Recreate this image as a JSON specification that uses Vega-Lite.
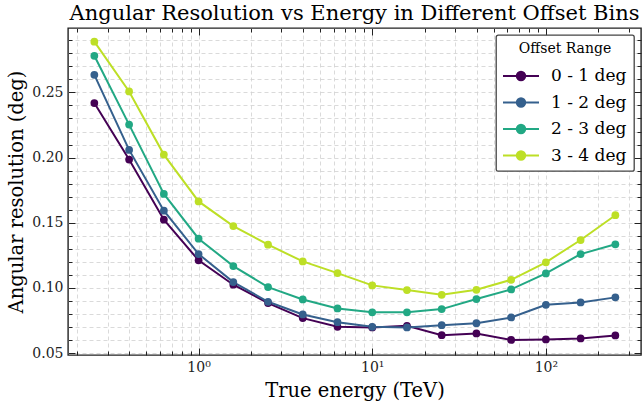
{
  "$schema": "https://vega.github.io/schema/vega-lite/v6.json",
  "width": 573,
  "height": 327,
  "autosize": {"type": "none"},
  "padding": {"left": 68, "top": 28, "right": 2, "bottom": 48},
  "background": "white",
  "config": {
    "font": "DejaVu Serif",
    "view": {"stroke": "#222", "strokeWidth": 1.4},
    "axis": {
      "labelFont": "DejaVu Serif",
      "titleFont": "DejaVu Serif",
      "labelColor": "#222",
      "titleColor": "#000",
      "titleFontWeight": "normal",
      "labelFontSize": 14,
      "titleFontSize": 19.5,
      "domain": false,
      "tickColor": "#222",
      "tickWidth": 1,
      "gridColor": "#d0d0d0",
      "gridDash": [4, 3],
      "gridWidth": 0.8,
      "labelOverlap": false,
      "labelFlush": false
    }
  },
  "title": {
    "text": "Angular Resolution vs Energy in Different Offset Bins",
    "font": "DejaVu Serif",
    "fontSize": 21,
    "fontWeight": "normal",
    "color": "#000",
    "anchor": "middle",
    "offset": 4
  },
  "data": {
    "values": [
      {"energy": 0.251, "offset": "0 - 1 deg", "res": 0.2418},
      {"energy": 0.398, "offset": "0 - 1 deg", "res": 0.1985},
      {"energy": 0.631, "offset": "0 - 1 deg", "res": 0.1524},
      {"energy": 1.0, "offset": "0 - 1 deg", "res": 0.1212},
      {"energy": 1.585, "offset": "0 - 1 deg", "res": 0.1025},
      {"energy": 2.512, "offset": "0 - 1 deg", "res": 0.0884},
      {"energy": 3.981, "offset": "0 - 1 deg", "res": 0.0769},
      {"energy": 6.31, "offset": "0 - 1 deg", "res": 0.0702},
      {"energy": 10.0, "offset": "0 - 1 deg", "res": 0.0697},
      {"energy": 15.85, "offset": "0 - 1 deg", "res": 0.0710},
      {"energy": 25.12, "offset": "0 - 1 deg", "res": 0.0638},
      {"energy": 39.81, "offset": "0 - 1 deg", "res": 0.0651},
      {"energy": 63.1, "offset": "0 - 1 deg", "res": 0.0602},
      {"energy": 100.0, "offset": "0 - 1 deg", "res": 0.0605},
      {"energy": 158.5, "offset": "0 - 1 deg", "res": 0.0613},
      {"energy": 251.2, "offset": "0 - 1 deg", "res": 0.0636},
      {"energy": 0.251, "offset": "1 - 2 deg", "res": 0.2635},
      {"energy": 0.398, "offset": "1 - 2 deg", "res": 0.2059},
      {"energy": 0.631, "offset": "1 - 2 deg", "res": 0.1593},
      {"energy": 1.0, "offset": "1 - 2 deg", "res": 0.1260},
      {"energy": 1.585, "offset": "1 - 2 deg", "res": 0.1045},
      {"energy": 2.512, "offset": "1 - 2 deg", "res": 0.0894},
      {"energy": 3.981, "offset": "1 - 2 deg", "res": 0.0797},
      {"energy": 6.31, "offset": "1 - 2 deg", "res": 0.0738},
      {"energy": 10.0, "offset": "1 - 2 deg", "res": 0.0702},
      {"energy": 15.85, "offset": "1 - 2 deg", "res": 0.0697},
      {"energy": 25.12, "offset": "1 - 2 deg", "res": 0.0715},
      {"energy": 39.81, "offset": "1 - 2 deg", "res": 0.0730},
      {"energy": 63.1, "offset": "1 - 2 deg", "res": 0.0774},
      {"energy": 100.0, "offset": "1 - 2 deg", "res": 0.0871},
      {"energy": 158.5, "offset": "1 - 2 deg", "res": 0.0889},
      {"energy": 251.2, "offset": "1 - 2 deg", "res": 0.0928},
      {"energy": 0.251, "offset": "2 - 3 deg", "res": 0.2781},
      {"energy": 0.398, "offset": "2 - 3 deg", "res": 0.2253},
      {"energy": 0.631, "offset": "2 - 3 deg", "res": 0.1721},
      {"energy": 1.0, "offset": "2 - 3 deg", "res": 0.1378},
      {"energy": 1.585, "offset": "2 - 3 deg", "res": 0.1168},
      {"energy": 2.512, "offset": "2 - 3 deg", "res": 0.1007},
      {"energy": 3.981, "offset": "2 - 3 deg", "res": 0.0912},
      {"energy": 6.31, "offset": "2 - 3 deg", "res": 0.0843},
      {"energy": 10.0, "offset": "2 - 3 deg", "res": 0.0813},
      {"energy": 15.85, "offset": "2 - 3 deg", "res": 0.0813},
      {"energy": 25.12, "offset": "2 - 3 deg", "res": 0.0838},
      {"energy": 39.81, "offset": "2 - 3 deg", "res": 0.0915},
      {"energy": 63.1, "offset": "2 - 3 deg", "res": 0.0989},
      {"energy": 100.0, "offset": "2 - 3 deg", "res": 0.1112},
      {"energy": 158.5, "offset": "2 - 3 deg", "res": 0.1260},
      {"energy": 251.2, "offset": "2 - 3 deg", "res": 0.1335},
      {"energy": 0.251, "offset": "3 - 4 deg", "res": 0.2889},
      {"energy": 0.398, "offset": "3 - 4 deg", "res": 0.2507},
      {"energy": 0.631, "offset": "3 - 4 deg", "res": 0.2023},
      {"energy": 1.0, "offset": "3 - 4 deg", "res": 0.1664},
      {"energy": 1.585, "offset": "3 - 4 deg", "res": 0.1475},
      {"energy": 2.512, "offset": "3 - 4 deg", "res": 0.1332},
      {"energy": 3.981, "offset": "3 - 4 deg", "res": 0.1204},
      {"energy": 6.31, "offset": "3 - 4 deg", "res": 0.1114},
      {"energy": 10.0, "offset": "3 - 4 deg", "res": 0.1020},
      {"energy": 15.85, "offset": "3 - 4 deg", "res": 0.0984},
      {"energy": 25.12, "offset": "3 - 4 deg", "res": 0.0948},
      {"energy": 39.81, "offset": "3 - 4 deg", "res": 0.0986},
      {"energy": 63.1, "offset": "3 - 4 deg", "res": 0.1063},
      {"energy": 100.0, "offset": "3 - 4 deg", "res": 0.1197},
      {"energy": 158.5, "offset": "3 - 4 deg", "res": 0.1368},
      {"energy": 251.2, "offset": "3 - 4 deg", "res": 0.1558}
    ]
  },
  "layer": [
    {
      "mark": {"type": "line", "strokeWidth": 2, "point": {"filled": true, "size": 60, "opacity": 1}},
      "encoding": {
        "x": {
          "field": "energy",
          "type": "quantitative",
          "scale": {"type": "log", "domain": [0.177, 353], "nice": false},
          "axis": {
            "orient": "bottom",
            "title": "True energy (TeV)",
            "values": [0.2, 0.3, 0.4, 0.5, 0.6, 0.7, 0.8, 0.9, 1, 2, 3, 4, 5, 6, 7, 8, 9, 10, 20, 30, 40, 50, 60, 70, 80, 90, 100, 200, 300],
            "labelExpr": "datum.value == 1 ? '10⁰' : datum.value == 10 ? '10¹' : datum.value == 100 ? '10²' : ''",
            "grid": true,
            "tickSize": {"condition": {"test": "datum.value == 1 || datum.value == 10 || datum.value == 100", "value": -7}, "value": -4},
            "labelPadding": 12,
            "titlePadding": 4
          }
        },
        "y": {
          "field": "res",
          "type": "quantitative",
          "scale": {"domain": [0.0486, 0.2994], "nice": false, "zero": false},
          "axis": {
            "orient": "left",
            "title": "Angular resolution (deg)",
            "values": [0.05, 0.06, 0.07, 0.08, 0.09, 0.1, 0.11, 0.12, 0.13, 0.14, 0.15, 0.16, 0.17, 0.18, 0.19, 0.2, 0.21, 0.22, 0.23, 0.24, 0.25, 0.26, 0.27, 0.28, 0.29],
            "labelExpr": "abs(datum.value * 20 - round(datum.value * 20)) < 0.001 ? format(datum.value, '.2f') : ''",
            "grid": true,
            "tickSize": {"condition": {"test": "abs(datum.value * 20 - round(datum.value * 20)) < 0.001", "value": -7}, "value": -4},
            "labelPadding": 12,
            "titlePadding": 5
          }
        },
        "color": {
          "field": "offset",
          "type": "nominal",
          "scale": {"domain": ["0 - 1 deg", "1 - 2 deg", "2 - 3 deg", "3 - 4 deg"], "range": ["#440154", "#35608d", "#22a884", "#bddf26"]},
          "legend": {
            "title": "Offset Range",
            "orient": "top-right",
            "offset": 7,
            "titleFont": "DejaVu Serif",
            "titleFontSize": 14,
            "titleFontWeight": "normal",
            "titleColor": "#000",
            "titleAnchor": "middle",
            "titlePadding": 9,
            "labelFont": "DejaVu Serif",
            "labelFontSize": 17,
            "labelColor": "#000",
            "labelOffset": 19,
            "symbolType": "M -1.8 0 L 1.8 0 M 0.42 0 A 0.42 0.42 0 1 1 -0.42 0 A 0.42 0.42 0 1 1 0.42 0 Z",
            "symbolSize": 400,
            "symbolOffset": 7,
            "symbolStrokeWidth": 2,
            "symbolOpacity": 1,
            "strokeColor": "#444",
            "fillColor": "white",
            "padding": 7,
            "cornerRadius": 2,
            "rowPadding": 6.5,
            "encode": {
              "legend": {"update": {"strokeWidth": {"value": 1.3}}},
              "symbols": {"update": {"fill": {"scale": "color", "field": "value"}, "stroke": {"scale": "color", "field": "value"}, "opacity": {"value": 1}}}
            }
          }
        }
      }
    },
    {
      "mark": {"type": "line", "opacity": 0},
      "encoding": {
        "x": {
          "field": "energy",
          "type": "quantitative",
          "axis": {
            "orient": "top",
            "title": null,
            "values": [0.2, 0.3, 0.4, 0.5, 0.6, 0.7, 0.8, 0.9, 1, 2, 3, 4, 5, 6, 7, 8, 9, 10, 20, 30, 40, 50, 60, 70, 80, 90, 100, 200, 300],
            "labels": false,
            "grid": false,
            "tickSize": {"condition": {"test": "datum.value == 1 || datum.value == 10 || datum.value == 100", "value": -7}, "value": -4}
          }
        },
        "y": {
          "field": "res",
          "type": "quantitative",
          "axis": {
            "orient": "right",
            "title": null,
            "values": [0.05, 0.06, 0.07, 0.08, 0.09, 0.1, 0.11, 0.12, 0.13, 0.14, 0.15, 0.16, 0.17, 0.18, 0.19, 0.2, 0.21, 0.22, 0.23, 0.24, 0.25, 0.26, 0.27, 0.28, 0.29],
            "labels": false,
            "grid": false,
            "tickSize": {"condition": {"test": "abs(datum.value * 20 - round(datum.value * 20)) < 0.001", "value": -7}, "value": -4}
          }
        }
      }
    }
  ],
  "resolve": {"axis": {"x": "independent", "y": "independent"}}
}
